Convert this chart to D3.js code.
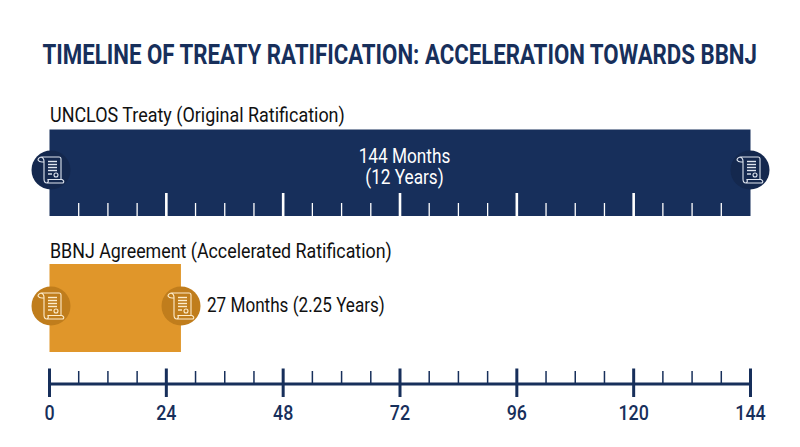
<!DOCTYPE html>
<html><head><meta charset="utf-8">
<script src="https://cdn.jsdelivr.net/npm/d3@7"></script>
<style>html,body{margin:0;background:#fff}svg{display:block}text{font-family:"Roboto","Liberation Sans",sans-serif}</style>
</head><body><svg id="c" width="800" height="447"></svg>
<script>
const titleText="TIMELINE OF TREATY RATIFICATION: ACCELERATION TOWARDS BBNJ";
const treaties=["UNCLOS Treaty (Original Ratification)","BBNJ Agreement (Accelerated Ratification)"];
const durations=[144,27];
const durationLines=["144 Months","(12 Years)"];
const shortLabel="27 Months (2.25 Years)";
const barColors=["#172f5b","#e0962a"];
const circleColors=["#14284e","#c07d1c"];
const iconColors=["#dfe5ef","#fdeccb"];
const axisMax=144;
const majorTicks=[0,24,48,72,96,120,144];
const minorTicks=[6,12,18,30,36,42,54,60,66,78,84,90,102,108,114,126,132,138];
const navy="#172f5b";
const svg=d3.select("#c");
const x=d3.scaleLinear().domain([0,axisMax]).range([49.5,750.5]);

function fit(parent,str,x0,width,base,size,weight,fill){
  const t=parent.append("text").attr("font-size",size).attr("font-weight",weight).attr("fill",fill).text(str);
  const k=width/t.node().getComputedTextLength();
  t.attr("transform",`translate(${x0},${base}) scale(${k},1)`);
  return t;
}

fit(svg,titleText,42.5,715,64,28.5,700,navy);
fit(svg,treaties[0],50,295,122,21,400,"#111");
fit(svg,treaties[1],50,342,258,21,400,"#111");

const rows=[{top:129.5,bottom:216},{top:264,bottom:352}];
svg.selectAll("rect.bar").data(durations).join("rect").attr("class","bar")
  .attr("x",x(0)).attr("y",(d,i)=>rows[i].top).attr("width",d=>x(d)-x(0))
  .attr("height",(d,i)=>rows[i].bottom-rows[i].top).attr("fill",(d,i)=>barColors[i]);

svg.append("g").selectAll("line").data(minorTicks).join("line")
  .attr("x1",d=>x(d)).attr("x2",d=>x(d)).attr("y1",203).attr("y2",216).attr("stroke","#fff").attr("stroke-width",1.3);
svg.append("g").selectAll("line").data(majorTicks.slice(1,-1)).join("line")
  .attr("x1",d=>x(d)).attr("x2",d=>x(d)).attr("y1",193).attr("y2",216).attr("stroke","#fff").attr("stroke-width",2.6);

const two=svg.append("text").attr("text-anchor","middle").attr("font-size",21).attr("font-weight",400).attr("fill","#fff")
  .attr("transform","translate(404.5,163) scale(0.82,1)");
two.selectAll("tspan").data(durationLines).join("tspan").attr("x",0).attr("dy",(d,i)=>i?21:0).text(d=>d);

fit(svg,shortLabel,207,178,312,21,400,"#111");

function icon(cx,cy,fill,ink){
  const g=svg.append("g").attr("transform",`translate(${cx},${cy})`);
  g.append("circle").attr("r",19.5).attr("fill",fill);
  const s=g.append("g").attr("fill","none").attr("stroke",ink).attr("stroke-width",1.1);
  s.append("path").attr("d","M-10,-13 H8 Q10,-13 10,-11 V9 M-10,-13 Q-13,-12 -13,-10 Q-12,-8 -9,-8 H-7 M-10,-13 Q-7,-12 -7,-9 V9 Q-7,13 -4,13 H12 Q14,11 11,9.5 H-3 Q-2,12 -4,13");
  s.selectAll("line").data([[-3,-8.5,6],[-3,-5.5,6],[-3,-2.5,6],[-3,0.5,6],[-3,4,1]]).join("line")
    .attr("x1",d=>d[0]).attr("x2",d=>d[2]).attr("y1",d=>d[1]).attr("y2",d=>d[1]).attr("stroke-width",1.4);
  s.append("circle").attr("cx",5).attr("cy",5).attr("r",2);
}
icon(51,170,circleColors[0],iconColors[0]);
icon(750,170,circleColors[0],iconColors[0]);
icon(51,306,circleColors[1],iconColors[1]);
icon(181,306,circleColors[1],iconColors[1]);

svg.append("line").attr("x1",x(0)).attr("x2",x(144)).attr("y1",384).attr("y2",384).attr("stroke",navy).attr("stroke-width",3);
svg.append("g").selectAll("line").data(minorTicks).join("line")
  .attr("x1",d=>x(d)).attr("x2",d=>x(d)).attr("y1",371).attr("y2",384).attr("stroke",navy).attr("stroke-width",1.5);
svg.append("g").selectAll("line").data(majorTicks).join("line")
  .attr("x1",d=>x(d)).attr("x2",d=>x(d)).attr("y1",368.5).attr("y2",397).attr("stroke",navy).attr("stroke-width",3);
svg.append("g").selectAll("text").data(majorTicks).join("text")
  .attr("transform",d=>`translate(${x(d)},419.5) scale(0.85,1)`).attr("text-anchor","middle")
  .attr("font-size",21).attr("font-weight",500).attr("fill",navy).text(d=>d);
</script></body></html>
